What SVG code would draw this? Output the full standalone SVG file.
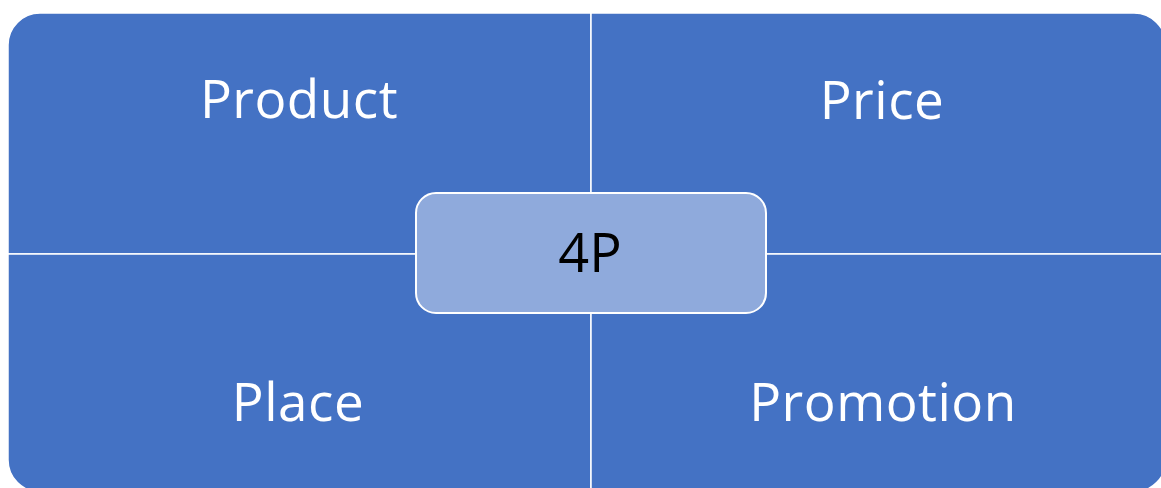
<svg xmlns="http://www.w3.org/2000/svg" width="1161" height="488" viewBox="0 0 1161 488">
  <style>
    .quad { fill: #4472C4; stroke: #FFFFFF; stroke-width: 1.5; }
    .center { fill: #8FAADC; stroke: #FFFFFF; stroke-width: 2; }
    .lbl { font-family: "Open Sans", "Liberation Sans", sans-serif; font-size: 53px; fill: #FFFFFF; text-anchor: middle; letter-spacing: 0.5px; }
    .lbl-dark { font-family: "Open Sans", "Liberation Sans", sans-serif; font-size: 54px; fill: #000000; text-anchor: middle; }
  </style>
  <rect width="1161" height="488" fill="#FFFFFF"/>
  <g id="product">
    <path class="quad" d="M8,254 L8,45 A32,32 0 0 1 40,13 L591,13 L591,254 Z"/>
    <text class="lbl" x="299" y="118">Product</text>
  </g>
  <g id="price">
    <path class="quad" d="M591,13 L1134,13 A32,32 0 0 1 1166,45 L1166,254 L591,254 Z"/>
    <text class="lbl" x="882" y="119">Price</text>
  </g>
  <g id="place">
    <path class="quad" d="M8,254 L591,254 L591,492 L40,492 A32,32 0 0 1 8,460 Z"/>
    <text class="lbl" x="298" y="421">Place</text>
  </g>
  <g id="promotion">
    <path class="quad" d="M591,254 L1166,254 L1166,460 A32,32 0 0 1 1134,492 L591,492 Z"/>
    <text class="lbl" x="883" y="421">Promotion</text>
  </g>
  <g id="connectors"></g>
  <g id="center-4p">
    <rect class="center" x="416" y="193" width="350" height="120" rx="20" ry="20"/>
    <text class="lbl-dark" x="590" y="272">4P</text>
  </g>
</svg>
